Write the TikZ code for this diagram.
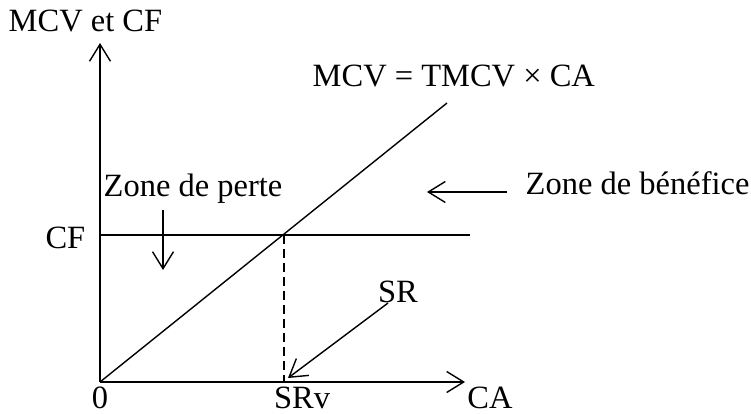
\documentclass[tikz,border=0pt]{standalone}
\usepackage{fontspec}
\setmainfont{Liberation Serif}
\usetikzlibrary{arrows.meta,positioning}
\tikzset{
  lbl/.style={font=\fontsize{32.5}{39}\selectfont, inner sep=0pt},
  barb/.style={-{Straight Barb[length=17pt,width=21pt]}}
}

\begin{document}
\begin{tikzpicture}[x=1pt, y=1pt, line width=1.4pt]
      \useasboundingbox (0, 0) rectangle (751, 414);

      % axes
      \coordinate (o) at (100, 32);
      \coordinate (ytop) at (100, 371);
      \coordinate (xend) at (465, 32);
      \draw[barb] (o) -- (ytop);
      \draw[barb] (o) -- (xend);

      % CF, MCV and seuil
      \coordinate (cfl) at (100, 179);
      \coordinate (cfr) at (470, 179);
      \coordinate (mcvend) at (447, 311);
      \coordinate (seuil) at (284, 179);
      \coordinate (seuilv) at (284, 32);
      \draw (cfl) -- (cfr);
      \draw (o) -- (mcvend);
      \draw[dash pattern=on 9pt off 5pt, line width=1.2pt] (seuil) -- (seuilv);

      \node[lbl, anchor=base west] (yname) at (8, 382) {MCV et CF};
      \node[lbl, anchor=base west] (mcvf) at (312, 327) {MCV = TMCV × CA};
      \node[lbl, anchor=base west] (perte) at (103, 217) {Zone de perte};
      \node[lbl, anchor=base west] (benef) at (525, 219) {Zone de bénéfice};
      \node[lbl, anchor=base east] (cf) at (86, 165) {CF};
      \node[lbl, anchor=base] (zero) at (100, 5) {0};
      \node[lbl, anchor=base] (srv) at (302, 5) {SRv};
      \node[lbl, anchor=base] (ca) at (490, 5) {CA};
      \node[lbl, anchor=base] (sr) at (398, 111) {SR};

      % arrows
      \coordinate (pertea) at (163, 204);
      \coordinate (perteb) at (163, 144);
      \coordinate (benefa) at (507, 222);
      \coordinate (benefb) at (427, 222);
      \coordinate (sra) at (388, 111);
      \coordinate (srb) at (288, 36);
      \draw[barb] (pertea) -- (perteb);
      \draw[barb] (benefa) -- (benefb);
      \draw[barb] (sra) -- (srb);

\end{tikzpicture}
\end{document}
